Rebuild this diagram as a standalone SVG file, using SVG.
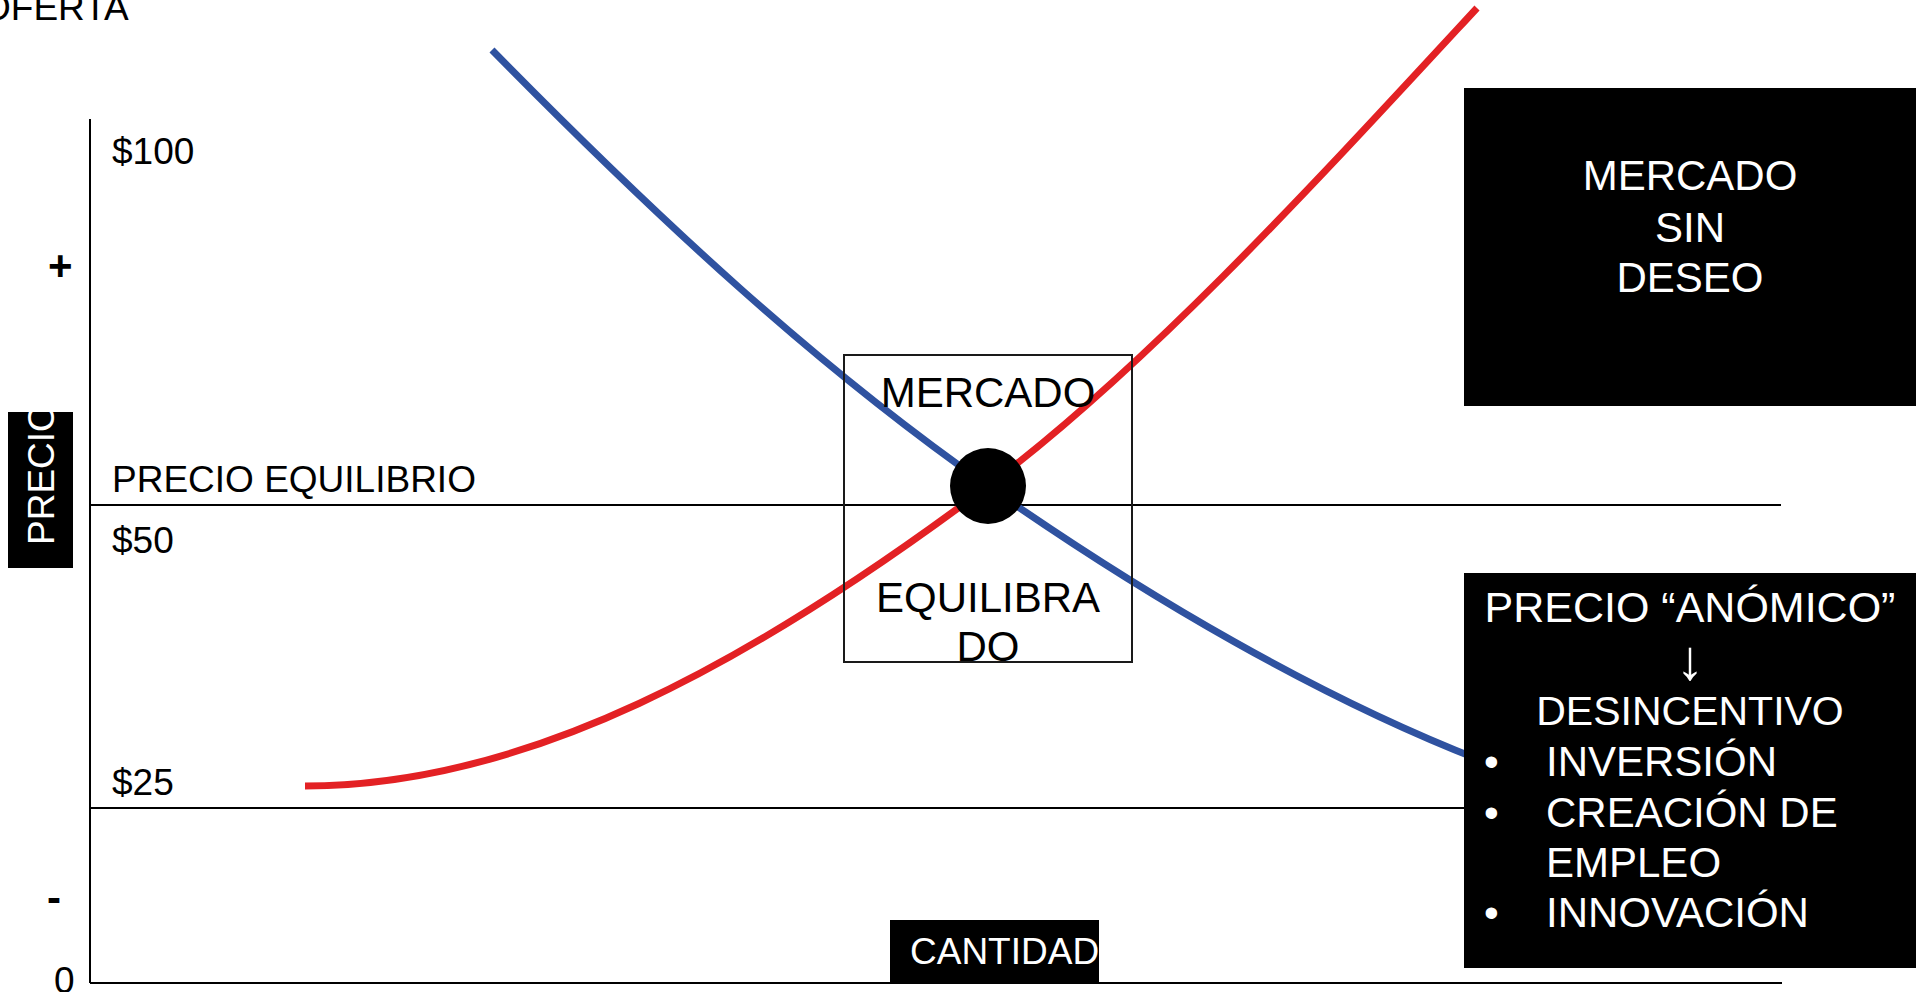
<svg xmlns="http://www.w3.org/2000/svg" width="1923" height="992" viewBox="0 0 1923 992">
<style>
  text { font-family: "Liberation Sans", Arial, sans-serif; }
  .t37 { font-size: 37px; fill: #000; }
  .t42 { font-size: 42px; fill: #000; }
  .w { fill: #fff; }
  .mid { text-anchor: middle; }
  .ax { stroke: #000; stroke-width: 2; fill: none; }
  .curve { fill: none; stroke-width: 7; stroke-linecap: butt; }
  .blk { fill: #000; }
</style>
<rect x="0" y="0" width="1923" height="992" fill="#fff"/>

<g id="axes">
  <line class="ax" x1="90" y1="119" x2="90" y2="983"/>
  <line class="ax" x1="90" y1="983" x2="1782" y2="983"/>
  <line class="ax" x1="90" y1="505" x2="1781" y2="505"/>
  <line class="ax" x1="90" y1="808" x2="1782" y2="808"/>
</g>

<g id="connectors">
  <path id="oferta-curve" class="curve" stroke="#E32124" d="M305,786 C525,786 748,666 988,486 C1148,366 1317,181 1477,8"/>
  <path id="demanda-curve" class="curve" stroke="#2F52A0" d="M492,50 C662,223 818,367 988,486 C1148,598 1320,697.6 1480,760"/>
</g>

<g id="axis-labels">
  <text class="t37" x="-18" y="20">OFERTA</text>
  <text class="t37" x="112" y="164">$100</text>
  <text class="t37" x="112" y="492">PRECIO EQUILIBRIO</text>
  <text class="t37" x="112" y="553">$50</text>
  <text class="t37" x="112" y="795">$25</text>
  <text x="48" y="280" style="font-size:42px;font-weight:bold">+</text>
  <text x="47" y="912" style="font-size:42px;font-weight:bold">-</text>
  <text class="t37" x="54" y="993">0</text>
</g>

<g id="precio-label">
  <rect class="blk" x="8" y="412" width="65" height="156"/>
  <text class="t37 w" transform="translate(54,545) rotate(-90)">PRECIO</text>
</g>

<g id="cantidad-label">
  <rect class="blk" x="890" y="920" width="209" height="63"/>
  <text class="t37 w" x="910" y="964">CANTIDAD</text>
</g>

<g id="mercado-equilibrado">
  <rect x="844" y="355" width="288" height="307" fill="none" stroke="#1a1a1a" stroke-width="2"/>
  <text class="t42 mid" x="988" y="407">MERCADO</text>
  <text class="t42 mid" x="988" y="612">EQUILIBRA</text>
  <text class="t42 mid" x="988" y="661">DO</text>
</g>

<g id="equilibrio-punto">
  <circle cx="988" cy="486" r="38" fill="#000"/>
</g>

<g id="mercado-sin-deseo">
  <rect class="blk" x="1464" y="88" width="452" height="318"/>
  <text class="t42 w mid" x="1690" y="190">MERCADO</text>
  <text class="t42 w mid" x="1690" y="242">SIN</text>
  <text class="t42 w mid" x="1690" y="292">DESEO</text>
</g>

<g id="precio-anomico">
  <rect class="blk" x="1464" y="573" width="452" height="395"/>
  <text class="w mid" x="1690" y="622" style="font-size:43px">PRECIO “ANÓMICO”</text>
  <text class="w mid" x="1690" y="679" style="font-size:56px">↓</text>
  <text class="w mid" x="1690" y="725" style="font-size:41px">DESINCENTIVO</text>
  <text class="t42 w" x="1484" y="776">•</text>
  <text class="t42 w" x="1546" y="776">INVERSIÓN</text>
  <text class="t42 w" x="1484" y="827">•</text>
  <text class="t42 w" x="1546" y="827">CREACIÓN DE</text>
  <text class="t42 w" x="1546" y="877">EMPLEO</text>
  <text class="t42 w" x="1484" y="927">•</text>
  <text class="t42 w" x="1546" y="927">INNOVACIÓN</text>
</g>
</svg>
